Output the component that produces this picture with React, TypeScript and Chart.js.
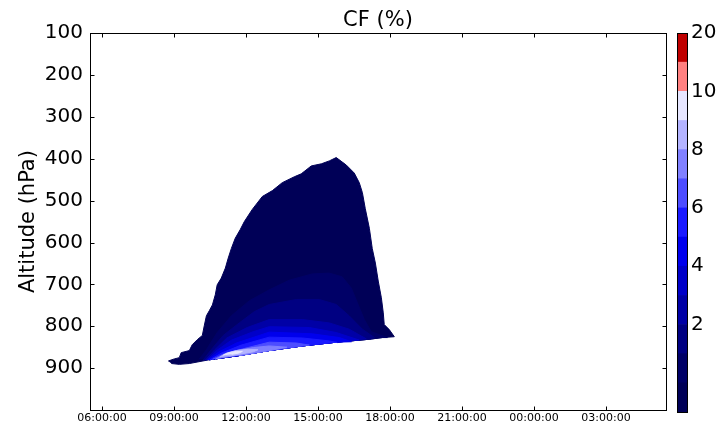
import React, { useEffect, useRef } from 'react';
import { Chart, registerables } from 'chart.js';

Chart.register(...registerables);

const FONT = 'DejaVu Sans';

// x axis: hours since 00:00 of the first day
const xTickHours = [6, 9, 12, 15, 18, 21, 24, 27];
const xTickLabels = ['06:00:00', '09:00:00', '12:00:00', '15:00:00', '18:00:00', '21:00:00', '00:00:00', '03:00:00'];
const yTickValues = [100, 200, 300, 400, 500, 600, 700, 800, 900];

// contour levels (CF %) and their fill colours
const cfLevels = [0.1, 0.5, 1, 2, 3, 4, 5, 6, 7, 8, 9, 10, 15, 20];
const cbTickLevels = [2, 4, 6, 8, 10, 20];
const levelColors = ['#000057', '#000067', '#000082', '#0000a6', '#0000c9', '#0000ed', '#1a1aff', '#4d4dff', '#8080ff', '#b3b3ff', '#e6e6ff', '#ff8080', '#bf0000'];

// [hour, hPa] — outer edge of CF >= 0.1 (left tip -> top -> right tip)
const cf01Upper = [
  [8.76, 883], [9.01, 878], [9.22, 875], [9.30, 863], [9.64, 858], [9.76, 844], [9.97, 832], [10.18, 822],
  [10.26, 799], [10.35, 775], [10.47, 763], [10.60, 749], [10.72, 725], [10.80, 701], [10.97, 685], [11.14, 661],
  [11.26, 637], [11.39, 614], [11.55, 590], [11.76, 569], [11.93, 550], [12.26, 521], [12.68, 490], [13.10, 476],
  [13.51, 457], [14.01, 443], [14.30, 436], [14.72, 417], [15.14, 412], [15.47, 405], [15.76, 397], [16.18, 415],
  [16.51, 434], [16.72, 457], [16.85, 481], [16.97, 519], [17.14, 566], [17.26, 614], [17.39, 649], [17.51, 692],
  [17.64, 732], [17.72, 768], [17.76, 796], [17.97, 808], [18.18, 825],
];
// base of the cloud (right -> left)
const cf01Base = [
  [17.68, 827], [17.14, 831], [15.76, 838], [14.35, 847], [12.97, 858], [11.72, 870], [10.47, 880], [9.64, 889], [9.22, 891], [8.89, 889],
];
// upper edges of the inner contours (left -> right), closed along the base
const cf05Arc = [[10.05, 879], [10.35, 856], [10.80, 815], [11.39, 775], [12.14, 739], [12.97, 713], [13.80, 690], [14.76, 675], [15.47, 673], [16.01, 682], [16.39, 709], [16.64, 744], [16.93, 784], [17.22, 813], [17.89, 827]];
const cf1Arc = [[10.20, 882], [10.55, 856], [11.05, 822], [11.72, 792], [12.35, 765], [12.97, 748], [14.10, 736], [15.05, 736], [15.76, 748], [16.30, 775], [16.85, 807], [17.35, 827]];
const cf2Arc = [[10.30, 881], [10.70, 856], [11.20, 828], [12.05, 803], [12.97, 784], [14.35, 784], [15.47, 792], [16.30, 807], [17.01, 830]];
const cf3Arc = [[10.36, 881], [10.80, 857], [11.40, 833], [12.30, 813], [12.97, 801], [14.64, 803], [15.76, 815], [16.72, 833]];
const cf4Arc = [[10.42, 880], [10.88, 861], [11.60, 840], [12.97, 814], [14.76, 818], [15.89, 827], [16.39, 837]];
const cf5Arc = [[10.50, 880], [10.98, 864], [11.80, 845], [12.97, 826], [14.35, 828], [15.47, 835], [15.80, 839]];
const cf6Arc = [[10.60, 879], [11.08, 866], [12.00, 852], [12.97, 838], [14.10, 840], [14.64, 845]];
const cf7Arc = [[10.72, 879], [11.10, 867], [11.60, 858], [12.30, 851], [12.97, 847], [13.70, 850]];
// small closed patches of the highest values
const cf8Patch = [[10.90, 874], [11.20, 864], [11.60, 858], [12.10, 855], [12.50, 856], [12.30, 861], [11.80, 866], [11.30, 871]];
const cf9Patch = [[11.05, 869], [11.30, 863], [11.60, 860], [11.85, 860], [11.70, 864], [11.40, 867]];

type Pt = number[];

function closeOnBase(arc: Pt[]): Pt[] {
  const h0 = arc[0][0];
  const h1 = arc[arc.length - 1][0];
  return [...arc, ...cf01Base.filter(([h]) => h > h0 && h < h1)];
}

const contours: { poly: Pt[]; level: number }[] = [
  { poly: [...cf01Upper, ...cf01Base], level: 0 },
  { poly: closeOnBase(cf05Arc), level: 1 },
  { poly: closeOnBase(cf1Arc), level: 2 },
  { poly: closeOnBase(cf2Arc), level: 3 },
  { poly: closeOnBase(cf3Arc), level: 4 },
  { poly: closeOnBase(cf4Arc), level: 5 },
  { poly: closeOnBase(cf5Arc), level: 6 },
  { poly: closeOnBase(cf6Arc), level: 7 },
  { poly: closeOnBase(cf7Arc), level: 8 },
  { poly: cf8Patch, level: 9 },
  { poly: cf9Patch, level: 10 },
];

const frameTicks = {
  id: 'frameTicks',
  afterDatasetsDraw(chart: any) {
    const { ctx, chartArea: a, scales } = chart;
    const x = scales.x;
    const y = scales.y;
    ctx.save();
    ctx.strokeStyle = '#000';
    ctx.lineWidth = 1;
    ctx.beginPath();
    const L = Math.round(a.left) + 0.5;
    const R = Math.round(a.right) + 0.5;
    const T = Math.round(a.top) + 0.5;
    const B = Math.round(a.bottom) + 0.5;
    for (const t of x.ticks) {
      const px = Math.round(x.getPixelForValue(t.value)) + 0.5;
      ctx.moveTo(px, B); ctx.lineTo(px, B - 4);
      ctx.moveTo(px, T); ctx.lineTo(px, T + 4);
    }
    for (const t of y.ticks) {
      const py = Math.round(y.getPixelForValue(t.value)) + 0.5;
      ctx.moveTo(L, py); ctx.lineTo(L + 4, py);
      ctx.moveTo(R, py); ctx.lineTo(R - 4, py);
    }
    ctx.stroke();
    ctx.strokeRect(L, T, R - L, B - T);
    ctx.restore();
  },
};

const cbFrame = {
  id: 'cbFrame',
  afterDatasetsDraw(chart: any) {
    const { ctx, chartArea: a } = chart;
    ctx.save();
    ctx.strokeStyle = '#000';
    ctx.lineWidth = 1;
    ctx.strokeRect(Math.round(a.left) + 0.5, Math.round(a.top) + 0.5, Math.round(a.right - a.left) - 1, Math.round(a.bottom - a.top));
    ctx.restore();
  },
};

export default function App() {
  const mainRef = useRef<HTMLCanvasElement>(null);
  const cbRef = useRef<HTMLCanvasElement>(null);

  useEffect(() => {
    const datasets = contours.map((c, i) => ({
      data: c.poly.map(([x, y]) => ({ x, y })),
      showLine: true,
      fill: 'shape',
      backgroundColor: levelColors[c.level],
      borderColor: levelColors[c.level],
      borderWidth: 1,
      pointRadius: 0,
      pointHoverRadius: 0,
      tension: 0,
      order: contours.length - i,
    }));

    const main = new Chart(mainRef.current!, {
      type: 'scatter',
      data: { datasets: datasets as any },
      options: {
        animation: false,
        responsive: false,
        devicePixelRatio: 1,
        events: [],
        layout: { padding: { left: 0, right: 55, top: 0, bottom: 0 } },
        plugins: {
          legend: { display: false },
          tooltip: { enabled: false },
          title: {
            display: true,
            text: 'CF (%)',
            fullSize: false,
            color: '#000',
            font: { family: FONT, size: 21, weight: 'normal', lineHeight: 1.2 },
            padding: { top: 8, bottom: 0 },
          },
        },
        scales: {
          x: {
            type: 'linear',
            min: 5.5,
            max: 29.5,
            grid: { display: false, drawTicks: false },
            border: { display: false },
            afterBuildTicks: (s: any) => { s.ticks = xTickHours.map((v) => ({ value: v })); },
            afterFit: (s: any) => { s.height = 17; },
            ticks: {
              autoSkip: false,
              maxRotation: 0,
              padding: 2,
              color: '#000',
              font: { family: FONT, size: 11 },
              callback: (v: any) => xTickLabels[xTickHours.indexOf(Number(v))] ?? '',
            },
          },
          y: {
            type: 'linear',
            reverse: true,
            min: 100,
            max: 1000,
            grid: { display: false, drawTicks: false },
            border: { display: false },
            afterBuildTicks: (s: any) => { s.ticks = yTickValues.map((v) => ({ value: v })); },
            afterFit: (s: any) => { s.width = 90; },
            title: {
              display: true,
              text: 'Altitude (hPa)',
              color: '#000',
              font: { family: FONT, size: 21 },
              padding: { top: 16, bottom: 0 },
            },
            ticks: {
              autoSkip: false,
              padding: 7,
              color: '#000',
              font: { family: FONT, size: 20 },
              callback: (v: any) => String(v),
            },
          },
        },
      },
      plugins: [frameTicks],
    } as any);

    const cb = new Chart(cbRef.current!, {
      type: 'bar',
      data: {
        labels: [''],
        datasets: levelColors.map((c, i) => ({
          data: [cfLevels.indexOf(cfLevels[i + 1]) - cfLevels.indexOf(cfLevels[i])],
          backgroundColor: c,
          borderWidth: 0,
          barPercentage: 1,
          categoryPercentage: 1,
        })),
      },
      options: {
        animation: false,
        responsive: false,
        devicePixelRatio: 1,
        events: [],
        layout: { padding: { left: 17, top: 33, bottom: 17, right: 0 } },
        plugins: { legend: { display: false }, tooltip: { enabled: false } },
        scales: {
          x: { display: false, stacked: true },
          y: {
            stacked: true,
            position: 'right',
            min: 0,
            max: cfLevels.length - 1,
            grid: { display: false, drawTicks: false },
            border: { display: false },
            afterBuildTicks: (s: any) => { s.ticks = cbTickLevels.map((v) => ({ value: cfLevels.indexOf(v) })); },
            afterFit: (s: any) => { s.width = 33; },
            ticks: {
              autoSkip: false,
              padding: 3,
              color: '#000',
              font: { family: FONT, size: 20 },
              callback: (v: any) => String(cfLevels[Number(v)]),
            },
          },
        },
      },
      plugins: [cbFrame],
    } as any);

    return () => {
      main.destroy();
      cb.destroy();
    };
  }, []);

  return (
    <div style={{ position: 'absolute', left: 0, top: 0, width: 721, height: 429, background: '#fff' }}>
      <canvas ref={mainRef} width={721} height={429} style={{ position: 'absolute', left: 0, top: 0, display: 'block' }} />
      <canvas ref={cbRef} width={61} height={429} style={{ position: 'absolute', left: 660, top: 0, display: 'block' }} />
    </div>
  );
}
